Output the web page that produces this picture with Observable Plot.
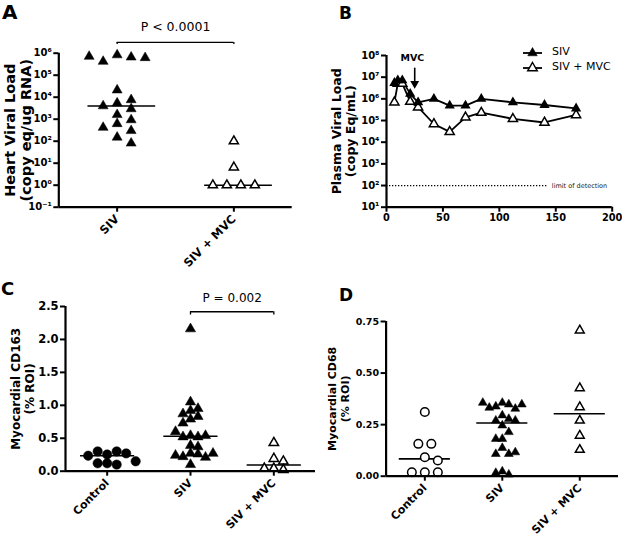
<!DOCTYPE html>
<html><head><meta charset="utf-8">
<script src="https://cdn.jsdelivr.net/npm/d3@7"></script>
<script src="https://cdn.jsdelivr.net/npm/@observablehq/plot@0.6"></script>
<style>
body{margin:0;background:#fff;}
#fig{position:relative;width:622px;height:541px;overflow:hidden;background:#fff;font-family:"DejaVu Sans",sans-serif;}
.panel{position:absolute;}
.letter{position:absolute;font-weight:bold;line-height:1;font-family:"DejaVu Sans",sans-serif;}
.legend{position:absolute;font-size:11px;font-family:"DejaVu Sans",sans-serif;}
.legend div{display:flex;align-items:center;height:15px;}
.legend svg{margin-right:9px;}
</style></head><body><div id="fig"></div>
<script>
// ---------- Panel A: heart viral load ----------
const heartCategories = ["SIV", "SIV + MVC"];
const heartSIV = [8.3e5, 6.6e5, 4.2e5, 6.2e5, 7.1e5, 2.1e4, 5.4e3, 7.6e3, 2.95e3, 4.0e3, 1.6e3, 9.3e2, 6.2e2, 4.2e2, 3.0e2, 1.5e2, 8.1e1];
const heartMVC = [100, 6.5, 1, 1, 1, 1];
const heartTicks = [0.1, 1, 10, 100, 1e3, 1e4, 1e5, 1e6];
const heartSig = [{from: 0, to: 1, label: "P < 0.0001", bar: 3.1e6, end: 2.5e6, text: 1.5e7}];

// ---------- Panel B: plasma viral load ----------
const plasmaSeries = ["SIV", "SIV + MVC"];
const plasmaDays = [7, 10, 14, 21, 28, 42, 56, 70, 84, 112, 140, 168];
const plasmaSIV = [5.4e6, 7.1e6, 7.1e6, 1.7e6, 6.9e5, 1.0e6, 4.9e5, 4.9e5, 1.0e6, 6.9e5, 5.2e5, 3.6e5];
const plasmaMVC = [6.9e5, 5.0e6, 5.0e6, 7.4e5, 4.1e5, 6.9e4, 3.0e4, 1.4e5, 2.3e5, 1.2e5, 8.1e4, 1.8e5];
const plasmaTicksY = [10, 100, 1e3, 1e4, 1e5, 1e6, 1e7, 1e8];
const plasmaTicksX = [0, 50, 100, 150, 200];
const detection = [{value: 100, from: 0, to: 143, label: "limit of detection"}];
const mvcStart = [{day: 25, top: 2.6e7, tip: 5.1e6, label: "MVC", labelDay: 23, labelY: 7.4e7}];

// ---------- Panel C: CD163 ----------
const tissueCategories = ["Control", "SIV", "SIV + MVC"];
const cd163Control = [0.253, 0.30, 0.30, 0.27, 0.12, 0.10, 0.12, 0.235, 0.15];
const cd163SIV = [2.16, 1.05, 0.92, 0.95, 0.83, 0.87, 0.79, 0.73, 0.54, 0.52, 0.52, 0.54, 0.60, 0.39, 0.37, 0.27, 0.26, 0.22, 0.21, 0.24, 0.27, 0.10];
const cd163MVC = [0.43, 0.19, 0.15, 0.04, 0.02, 0.04];
const cd163Ticks = [0, 0.5, 1.0, 1.5, 2.0, 2.5];
const cd163Sig = [{from: 1, to: 2, label: "P = 0.002", bar: 2.42, end: 2.37, text: 2.62}];

// ---------- Panel D: CD68 ----------
const cd68Control = [0.311, 0.157, 0.157, 0.092, 0.076, 0.019, 0.019, 0.019];
const cd68SIV = [0.356, 0.348, 0.338, 0.327, 0.332, 0.348, 0.356, 0.295, 0.278, 0.27, 0.27, 0.246, 0.214, 0.181, 0.181, 0.137, 0.108, 0.108, 0.116, 0.023, 0.008, 0.016];
const cd68MVC = [0.707, 0.427, 0.335, 0.27, 0.197, 0.128];
const cd68Ticks = [0, 0.25, 0.5, 0.75];

// ---------- helpers ----------
const SUP = {"-": "\u207B", "0": "\u2070", "1": "\u00B9", "2": "\u00B2", "3": "\u00B3", "4": "\u2074", "5": "\u2075", "6": "\u2076", "7": "\u2077", "8": "\u2078", "9": "\u2079"};
const pow10 = d => "10" + String(Math.round(Math.log10(d))).split("").map(c => SUP[c]).join("");
const FONT = "DejaVu Sans";
const fig = document.getElementById("fig");
function place(el, left, top) {
  const d = document.createElement("div");
  d.className = "panel"; d.style.left = left + "px"; d.style.top = top + "px";
  d.appendChild(el); fig.appendChild(d);
}
function letter(t, left, top, size) {
  const d = document.createElement("div");
  d.className = "letter"; d.textContent = t;
  d.style.left = left + "px"; d.style.top = top + "px"; d.style.fontSize = size + "px";
  fig.appendChild(d);
}
const yLabel = (label, dx, size) => Plot.text([label], {text: d => d, frameAnchor: "left", textAnchor: "middle", rotate: -90, lineAnchor: "top", dx, fontSize: size, lineHeight: 1.15});

function scatterPanel(cfg) {
  const n = cfg.cats.length;
  const dims = {width: cfg.width, height: cfg.height, marginTop: cfg.m[0], marginRight: cfg.m[1], marginBottom: cfg.m[2], marginLeft: cfg.m[3]};
  const xOpts = {domain: [-0.5, n - 0.5]};
  const probe = Plot.plot({...dims, x: xOpts, y: cfg.y, marks: [Plot.ruleY([cfg.y.domain[0]])]});
  const ys = probe.scale("y"), xs = probe.scale("x");
  const step = xs.apply(1) - xs.apply(0);
  const rows = [];
  cfg.groups.forEach((g, i) => {
    const placed = [];
    g.values.forEach(v => {
      const py = ys.apply(v);
      let off = 0;
      for (let k = 0; k < 60; k++) {
        const c = k === 0 ? 0 : (k % 2 ? 1 : -1) * Math.ceil(k / 2) * g.sx;
        if (!placed.some(p => Math.abs(p.py - py) < g.sy && Math.abs(p.off - c) < g.sx - 0.01)) { off = c; break; }
      }
      placed.push({v, py, off});
    });
    // centre an isolated row of identical values (swarm layout)
    d3.group(placed, p => p.v).forEach(list => {
      if (list.length < 2) return;
      const py = list[0].py;
      const crowded = placed.some(p => p.v !== list[0].v && Math.abs(p.py - py) < g.sy);
      if (crowded) return;
      const mean = d3.mean(list, p => p.off);
      list.forEach(p => p.off -= mean);
    });
    placed.forEach(p => rows.push({cat: i, x: i + p.off / step, y: p.v}));
  });
  const medians = cfg.groups.map((g, i) => ({cat: i, m: d3.median(g.values)}));
  const marks = [
    Plot.ruleY(medians, {y: "m", x1: d => d.cat + cfg.med[0], x2: d => d.cat + cfg.med[1], strokeWidth: 1.6}),
    ...cfg.groups.map((g, i) => Plot.dot(rows.filter(d => d.cat === i), {
      x: "x", y: "y", symbol: g.symbol, r: g.r,
      fill: g.fill, stroke: "black", strokeWidth: g.fill === "white" ? 1.5 : 0.5
    })),
    Plot.ruleX([-0.5], {strokeWidth: 2.2}),
    Plot.ruleY([cfg.y.domain[0]], {strokeWidth: 2.2}),
    Plot.axisY({ticks: cfg.yTicks, tickFormat: cfg.yFmt, tickSize: 5, tickPadding: 2, strokeWidth: 2, fontSize: cfg.tickFont, label: null}),
    Plot.axisX({ticks: d3.range(n), tickFormat: i => cfg.cats[i], tickRotate: -45, tickSize: 5, tickPadding: cfg.catPad, strokeWidth: 2, fontSize: cfg.catFont, label: null}),
    yLabel(cfg.label, cfg.labelDx, cfg.labelSize)
  ];
  if (cfg.sig) {
    marks.push(
      Plot.ruleY(cfg.sig, {y: "bar", x1: "from", x2: "to", strokeWidth: 1.3}),
      Plot.ruleX(cfg.sig.flatMap(s => [{x: s.from, a: s.bar, b: s.end}, {x: s.to, a: s.bar, b: s.end}]), {x: "x", y1: "a", y2: "b", strokeWidth: 1.3}),
      Plot.text(cfg.sig, {x: d => (d.from + d.to) / 2, y: "text", text: "label", fontSize: cfg.pFont, fontWeight: "normal"})
    );
  }
  return Plot.plot({
    ...dims, x: xOpts, y: cfg.y,
    style: {fontFamily: FONT, fontWeight: "bold", overflow: "visible", background: "transparent", color: "black"},
    marks
  });
}

// ---------- A ----------
place(scatterPanel({
  width: 300, height: 270, m: [52.7, 8.3, 63.3, 58.3],
  cats: heartCategories,
  y: {type: "log", domain: [0.1, 1e6]},
  yTicks: heartTicks, yFmt: pow10, tickFont: 10,
  catFont: 11.5, catPad: 5,
  label: "Heart Viral Load\n(copy eq/ug RNA)", labelSize: 14.5, labelDx: -56,
  med: [-0.25, 0.33],
  groups: [
    {values: heartSIV, symbol: "triangle", fill: "black", r: 3.7, sx: 14, sy: 9},
    {values: heartMVC, symbol: "triangle", fill: "white", r: 3.4, sx: 14, sy: 9}
  ],
  sig: heartSig, pFont: 12.5
}), 0, 0);

// ---------- C ----------
place(scatterPanel({
  width: 318, height: 261, m: [26, 3, 70.3, 65],
  cats: tissueCategories,
  y: {domain: [0, 2.5]},
  yTicks: cd163Ticks, yFmt: d3.format(".1f"), tickFont: 11.5,
  catFont: 11, catPad: 5,
  label: "Myocardial CD163\n(% ROI)", labelSize: 12, labelDx: -55,
  med: [-0.32, 0.33],
  groups: [
    {values: cd163Control, symbol: "circle", fill: "black", r: 4.7, sx: 9.5, sy: 8},
    {values: cd163SIV, symbol: "triangle", fill: "black", r: 3.8, sx: 7.5, sy: 7},
    {values: cd163MVC, symbol: "triangle", fill: "white", r: 3.5, sx: 9.5, sy: 7}
  ],
  sig: cd163Sig, pFont: 12
}), 0, 280);

// ---------- D ----------
place(scatterPanel({
  width: 304, height: 261, m: [41, 4, 65.3, 67.6],
  cats: tissueCategories,
  y: {domain: [0, 0.75]},
  yTicks: cd68Ticks, yFmt: d3.format(".2f"), tickFont: 9.5,
  catFont: 11, catPad: 5,
  label: "Myocardial CD68\n(% ROI)", labelSize: 11, labelDx: -58.6,
  med: [-0.33, 0.33],
  groups: [
    {values: cd68Control, symbol: "circle", fill: "white", r: 4.3, sx: 13, sy: 9},
    {values: cd68SIV, symbol: "triangle", fill: "black", r: 3.3, sx: 6.5, sy: 7},
    {values: cd68MVC, symbol: "triangle", fill: "white", r: 3.3, sx: 9, sy: 7}
  ]
}), 318, 280);

// ---------- B ----------
const plasmaRows = plasmaDays.flatMap((d, i) => [
  {day: d, v: plasmaMVC[i], s: plasmaSeries[1]},
  {day: d, v: plasmaSIV[i], s: plasmaSeries[0]}
]);
const chartB = Plot.plot({
  width: 322, height: 280, marginTop: 55, marginRight: 10.3, marginBottom: 73.3, marginLeft: 86,
  x: {domain: [0, 200]},
  y: {type: "log", domain: [10, 1e8]},
  style: {fontFamily: FONT, fontWeight: "bold", overflow: "visible", background: "transparent", color: "black"},
  marks: [
    Plot.ruleY(detection, {y: "value", x1: "from", x2: "to", strokeWidth: 1.2, strokeDasharray: "1.3,1.7"}),
    Plot.text(detection, {x: d => d.to + 3.5, y: "value", text: "label", textAnchor: "start", fontSize: 6.5, fontWeight: "normal", fill: "#222"}),
    Plot.line(plasmaRows, {x: "day", y: "v", z: "s", strokeWidth: 1.8}),
    Plot.dot(plasmaRows.filter(d => d.s === plasmaSeries[1]), {x: "day", y: "v", symbol: "triangle", r: 3.4, fill: "white", stroke: "black", strokeWidth: 1.5}),
    Plot.dot(plasmaRows.filter(d => d.s === plasmaSeries[0]), {x: "day", y: "v", symbol: "triangle", r: 3.8, fill: "black"}),
    Plot.ruleX(mvcStart, {x: "day", y1: "top", y2: "tip", strokeWidth: 1.6}),
    Plot.dot(mvcStart, {x: "day", y: "tip", symbol: "triangle", rotate: 180, r: 3.3, fill: "black"}),
    Plot.text(mvcStart, {x: "labelDay", y: "labelY", text: "label", fontSize: 9.5}),
    Plot.ruleX([0], {strokeWidth: 2.2}),
    Plot.ruleY([10], {strokeWidth: 2.2}),
    Plot.axisY({ticks: plasmaTicksY, tickFormat: pow10, tickSize: 5, tickPadding: 2, strokeWidth: 2, fontSize: 10, label: null}),
    Plot.axisX({ticks: plasmaTicksX, tickSize: 5, tickPadding: 2, strokeWidth: 2, fontSize: 9.8, label: null}),
    yLabel("Plasma Viral Load\n(copy Eq/mL)", -56, 12.5)
  ]
});
place(chartB, 300, 0);

// legend for B
const leg = document.createElement("div");
leg.className = "legend"; leg.style.left = "522px"; leg.style.top = "44px";
plasmaSeries.forEach((s, i) => {
  const row = document.createElement("div");
  const fill = i === 0 ? "black" : "white";
  row.innerHTML = `<svg width="21" height="12"><line x1="1" x2="20" y1="7" y2="7" stroke="black" stroke-width="1.8"/><path d="M10.5,1.5 L15.3,9.8 L5.7,9.8 Z" fill="${fill}" stroke="black" stroke-width="${i === 0 ? 0.5 : 1.4}"/></svg><span>${s}</span>`;
  leg.appendChild(row);
});
fig.appendChild(leg);

letter("A", 2, 2, 20);
letter("B", 339, 5, 17);
letter("C", 1, 280, 18);
letter("D", 339, 287, 17);
</script></body></html>
